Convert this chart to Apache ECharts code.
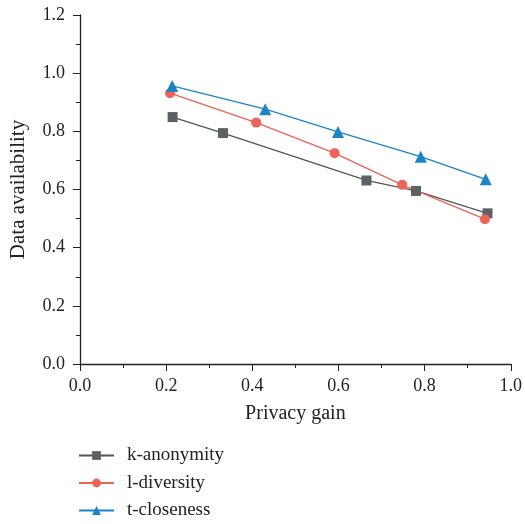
<!DOCTYPE html>
<html>
<head>
<meta charset="utf-8">
<script src="https://cdn.jsdelivr.net/npm/echarts@6/dist/echarts.min.js"></script>
<style>
  html, body { margin: 0; padding: 0; background: #fff; }
  #chart { width: 525px; height: 524px; }
</style>
</head>
<body>
<div id="chart"></div>
<script>
// values
const kAnonX = [0.215, 0.332, 0.665, 0.780, 0.946]
const kAnonY = [0.849, 0.794, 0.631, 0.595, 0.518]
const lDivX = [0.209, 0.409, 0.591, 0.748, 0.940]
const lDivY = [0.931, 0.830, 0.725, 0.616, 0.498]
const tCloseX = [0.214, 0.430, 0.599, 0.791, 0.942]
const tCloseY = [0.956, 0.876, 0.798, 0.713, 0.635]
const seriesNames = ['k-anonymity', 'l-diversity', 't-closeness']

const pairs = (xs, ys) => xs.map((x, i) => [x, ys[i]])
const font = "'Liberation Serif', 'DejaVu Serif', serif"
const axisColor = '#222'

const chart = echarts.init(document.getElementById('chart'))

chart.setOption({
  animation: false,
  textStyle: { fontFamily: font },
  grid: {
    left: 78,
    right: 11,
    top: 15,
    bottom: 160
  },
  legend: {
    orient: 'vertical',
    left: 78,
    top: 446,
    padding: 0,
    itemWidth: 35,
    itemHeight: 11,
    itemGap: 8.5,
    textStyle: { fontFamily: font, fontSize: 19, color: '#222', padding: [0, 0, 0, 8] },
    data: seriesNames
  },
  xAxis: {
    type: 'value',
    min: 0,
    max: 1,
    interval: 0.2,
    name: 'Privacy gain',
    nameLocation: 'middle',
    nameGap: 40,
    nameTextStyle: { fontFamily: font, fontSize: 20, color: '#222' },
    axisLine: { lineStyle: { color: axisColor, width: 1.3 } },
    axisTick: { show: true, length: 7, inside: false, lineStyle: { color: axisColor } },
    minorTick: { show: true, splitNumber: 2, length: 4, lineStyle: { color: axisColor } },
    splitLine: { show: false },
    axisLabel: {
      fontFamily: font,
      fontSize: 18,
      color: '#222',
      margin: 13,
      formatter: v => v.toFixed(1)
    }
  },
  yAxis: {
    type: 'value',
    min: 0,
    max: 1.2,
    interval: 0.2,
    name: 'Data availability',
    nameLocation: 'middle',
    nameGap: 51,
    nameTextStyle: { fontFamily: font, fontSize: 21, color: '#222' },
    axisLine: { show: true, lineStyle: { color: axisColor, width: 1.3 } },
    axisTick: { show: true, length: 7, lineStyle: { color: axisColor } },
    minorTick: { show: true, splitNumber: 2, length: 4, lineStyle: { color: axisColor } },
    splitLine: { show: false },
    axisLabel: {
      fontFamily: font,
      fontSize: 18,
      color: '#222',
      margin: 15,
      formatter: v => v.toFixed(1)
    }
  },
  series: [
    {
      name: seriesNames[0],
      type: 'line',
      data: pairs(kAnonX, kAnonY),
      symbol: 'rect',
      symbolSize: 10,
      itemStyle: { color: '#5c6163' },
      lineStyle: { color: '#555', width: 1.3 }
    },
    {
      name: seriesNames[1],
      type: 'line',
      data: pairs(lDivX, lDivY),
      symbol: 'circle',
      symbolSize: 10,
      itemStyle: { color: '#ee6258' },
      lineStyle: { color: '#ee6258', width: 1.3 }
    },
    {
      name: seriesNames[2],
      type: 'line',
      data: pairs(tCloseX, tCloseY),
      symbol: 'triangle',
      symbolSize: 12,
      itemStyle: { color: '#1a84c6' },
      lineStyle: { color: '#1a84c6', width: 1.3 }
    }
  ]
})
</script>
</body>
</html>
